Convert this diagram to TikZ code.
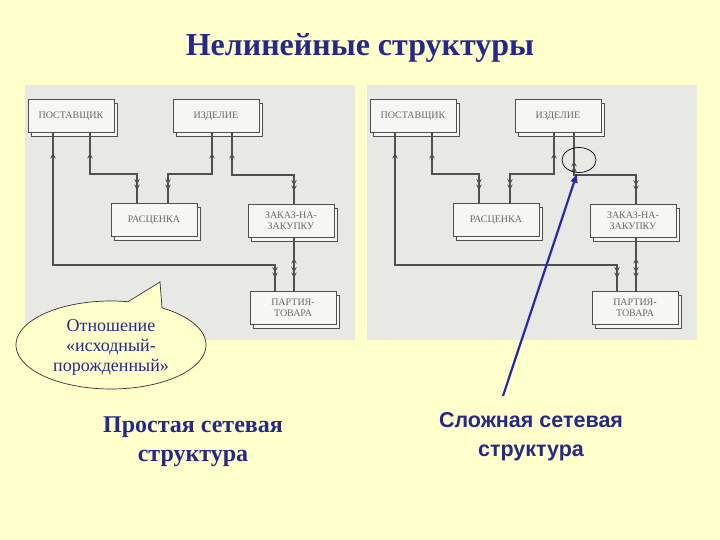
\documentclass[tikz,border=0pt]{standalone}
\usepackage{fontspec}
\setmainfont{Liberation Serif}
\newfontfamily\arialfont{Liberation Sans}
\usetikzlibrary{shadows,decorations.markings,arrows.meta,shapes.geometric}
\definecolor{bgyellow}{RGB}{255,255,204}
\definecolor{panelgray}{RGB}{232,232,228}
\definecolor{boxfill}{RGB}{246,246,244}
\definecolor{linegray}{RGB}{80,80,80}
\definecolor{labelgray}{RGB}{105,105,105}
\definecolor{navy}{RGB}{40,40,140}
\definecolor{arrowblue}{RGB}{40,40,170}
\tikzset{
  erbox/.style={draw=linegray, line width=0.9pt, fill=boxfill,
    minimum width=86pt, minimum height=33pt, inner sep=1pt, align=center,
    font=\fontsize{10}{11}\selectfont, text=labelgray,
    copy shadow={shadow xshift=3.5pt, shadow yshift=-3.5pt, draw=linegray, fill=boxfill}},
  link/.style={draw=linegray, color=linegray, line width=1.1pt},
  onestart/.style={postaction={decorate,decoration={markings,
    mark=at position 20pt with {\arrowreversed{Stealth[length=5.5pt,width=5.5pt]}}}}},
  manystart/.style={postaction={decorate,decoration={markings,
    mark=at position 28pt with {\arrowreversed{Stealth[length=5.5pt,width=5.5pt] Stealth[length=5.5pt,width=5.5pt]}}}}},
  manyend/.style={postaction={decorate,decoration={markings,
    mark=at position -13pt with {\arrow{Stealth[length=5.5pt,width=5.5pt] Stealth[length=5.5pt,width=5.5pt]}}}}},
  bubble/.style={draw=black!80, line width=0.7pt, fill=bgyellow},
}
\newcommand\erpanel[1]{%
  \fill[panelgray] (25,85) rectangle (355,340);
  \node[erbox] (sup) at (71,116) {ПОСТАВЩИК};
  \node[erbox] (izd) at (216,116) {ИЗДЕЛИЕ};
  \node[erbox] (ras) at (154,220) {РАСЦЕНКА};
  \node[erbox] (zak) at (291,221) {ЗАКАЗ-НА-\\ЗАКУПКУ};
  \node[erbox] (par) at (293,308) {ПАРТИЯ-\\ТОВАРА};
  \draw[link,onestart,manyend] (53,0 |- sup.south) -- (53,265) -- (275,265) -- (275,0 |- par.north);
  \draw[link,onestart,manyend] (90,0 |- sup.south) -- (90,174) -- (137,174) -- (137,0 |- ras.north);
  \draw[link,onestart,manyend] (212,0 |- izd.south) -- (212,174) -- (168,174) -- (168,0 |- ras.north);
  \draw[link,#1,manyend] (232,0 |- izd.south) -- (232,175) -- (294,175) -- (294,0 |- zak.north);
  \draw[link,onestart,manyend] (294,0 |- zak.south) -- (294,0 |- par.north);
}
\begin{document}
\begin{tikzpicture}[x=1pt,y=-1pt]
  \fill[bgyellow] (0,0) rectangle (720,540);
  \useasboundingbox (0,0) rectangle (720,540);
  \node[font=\bfseries\fontsize{32}{36}\selectfont, text=navy] (title) at (360,48) {Нелинейные структуры};
  \begin{scope}[name prefix=L-]
    \erpanel{onestart}
  \end{scope}
  \begin{scope}[xshift=342pt, name prefix=R-]
    \erpanel{manystart}
  \end{scope}
  \node[draw=black, line width=0.7pt, ellipse, minimum width=34pt, minimum height=25pt, inner sep=0pt] (circ) at (579,160) {};
  \coordinate (bluestart) at (503,396);
  \draw[arrowblue, line width=2.2pt, -{Latex[length=10pt,width=8pt]}] (bluestart) -- (circ.262);
  \draw[bubble] (160,282) -- plot[domain=79.7:417.5, samples=160, variable=\t] ({111+95*cos(\t)}, {345-44*sin(\t)}) -- cycle;
  \node[text=navy, align=center, font=\fontsize{18}{20}\selectfont] (note) at (111,347) {Отношение\\«исходный-\\порожденный»};
  \node[text=navy, align=center, font=\bfseries\fontsize{24}{29}\selectfont] (simple) at (193,442) {Простая сетевая\\структура};
  \node[text=navy, align=center, font=\arialfont\bfseries\fontsize{21.5}{29}\selectfont] (complex) at (531,437) {Сложная сетевая\\структура};
\end{tikzpicture}
\end{document}
